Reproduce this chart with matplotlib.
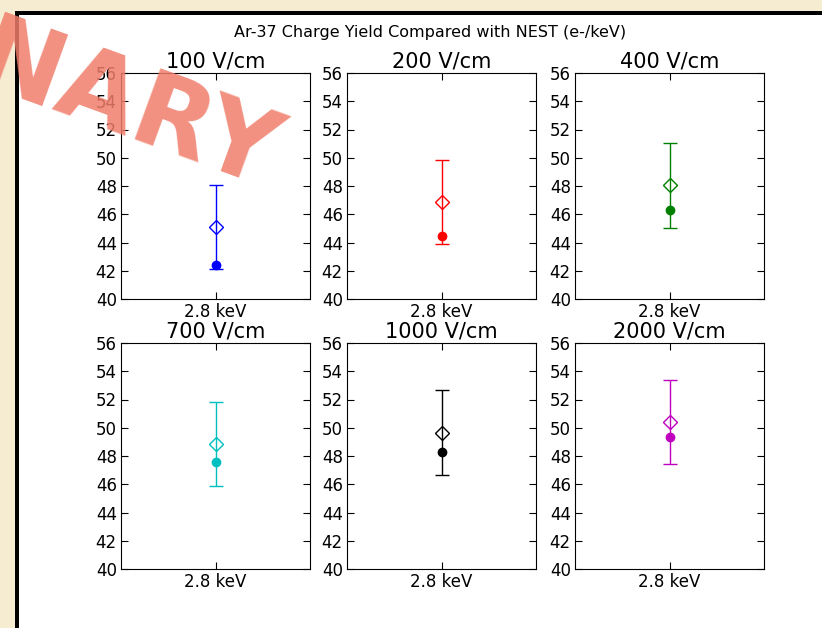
import numpy as np
import matplotlib
matplotlib.use("Agg")
import matplotlib.pyplot as plt
from matplotlib.patches import Rectangle
from matplotlib.lines import Line2D

# values
fields = ["100 V/cm", "200 V/cm", "400 V/cm", "700 V/cm", "1000 V/cm", "2000 V/cm"]
colors = ['b', 'r', 'g', 'c', 'k', 'm']
measured = [45.1, 46.85, 48.05, 48.85, 49.65, 50.4]   # open diamonds
meas_err = [2.97, 2.99, 2.99, 2.99, 3.0, 3.0]
nest = [42.4, 44.45, 46.3, 47.6, 48.3, 49.35]          # filled dots
energy_label = "2.8 keV"
yticks = np.arange(40, 57, 2)

W, H = 822, 628
fig = plt.figure(figsize=(W/100., H/100.), dpi=100)
fig.patch.set_facecolor('#f6ecd2')

# slide frame: white panel with thick black border on left/top
fig.patches.append(Rectangle((19./W, 0), 1 - 19./W, 1 - 15./H, transform=fig.transFigure,
                             facecolor='white', edgecolor='none', zorder=-1))
fig.lines.append(Line2D([16.5/W, 16.5/W], [0, 1 - 12.5/H], transform=fig.transFigure,
                        color='black', lw=3.6, solid_capstyle='projecting', zorder=-1))
fig.lines.append(Line2D([16.5/W, 1], [1 - 12.5/H, 1 - 12.5/H], transform=fig.transFigure,
                        color='black', lw=3.6, solid_capstyle='projecting', zorder=-1))

lefts = [121, 347, 575]
tops = [73, 343]
aw, ah = 189, 226

for i in range(6):
    r, c = divmod(i, 3)
    x0 = lefts[c] / float(W)
    y0 = 1 - (tops[r] + ah) / float(H)
    ax = fig.add_axes([x0, y0, aw/float(W), ah/float(H)])
    ax.errorbar([0], [measured[i]], yerr=[meas_err[i]], fmt='D', color=colors[i],
                mfc='none', mec=colors[i], ms=7, mew=1, capsize=5, elinewidth=1)
    ax.plot([0], [nest[i]], 'o', color=colors[i], ms=6)
    ax.set_xlim(-1, 1)
    ax.set_ylim(40, 56)
    ax.set_yticks(yticks)
    ax.set_xticks([0])
    ax.set_xticklabels([energy_label])
    ax.tick_params(direction='in', top=True, right=True, labelsize=12, length=5, pad=3)
    ax.set_title(fields[i], fontsize=15, pad=4)

fig.text(0.523, 1 - 32./H, "Ar-37 Charge Yield Compared with NEST (e-/keV)",
         ha='center', va='center', fontsize=11.5)

# watermark
fig.text(264./W, 1 - 190./H, "PRELIMINARY", fontsize=74, fontweight='bold',
         color='#f07d6a', alpha=0.85, rotation=-20, rotation_mode='anchor',
         ha='right', va='baseline', zorder=10)

fig.savefig("out.png", dpi=100, facecolor=fig.get_facecolor())
